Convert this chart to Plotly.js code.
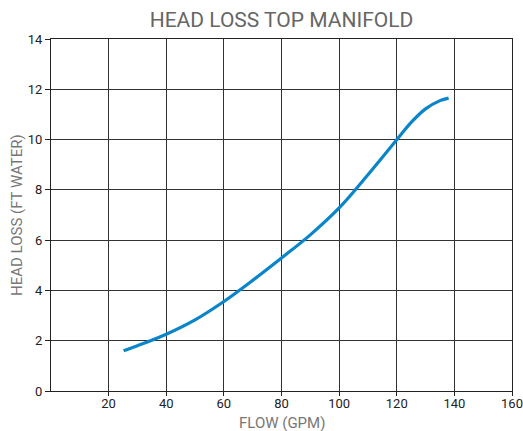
<!DOCTYPE html>
<html>
<head>
<meta charset="utf-8">
<script src="https://cdn.plot.ly/plotly-3.0.1.min.js"></script>
<style>html,body{margin:0;padding:0;background:#fff;}#chart{width:523px;height:431px;}</style>
</head>
<body>
<div id="chart"></div>
<script>
const flow = [25.2, 30, 40, 50, 60, 70, 80, 90, 100, 110, 120, 125, 130, 135, 138];
const headLoss = [1.6, 1.8, 2.26, 2.83, 3.56, 4.4, 5.29, 6.21, 7.28, 8.6, 9.99, 10.68, 11.22, 11.55, 11.65];
const xTicks = [20, 40, 60, 80, 100, 120, 140, 160];
const yTicks = [0, 2, 4, 6, 8, 10, 12, 14];

const trace = {
  x: flow, y: headLoss, type: 'scatter', mode: 'lines',
  line: {color: '#0a85c9', width: 3.2, shape: 'spline', smoothing: 1},
  hoverinfo: 'skip'
};
const layout = {
  width: 523, height: 431,
  margin: {l: 51, r: 11, t: 39, b: 40, pad: 0},
  paper_bgcolor: '#fff', plot_bgcolor: '#fff',
  showlegend: false,
  font: {family: 'Roboto, sans-serif', color: '#222'},
  title: {text: 'HEAD LOSS TOP MANIFOLD', font: {size: 21, color: '#666', family: 'Roboto, sans-serif'},
          x: 0.5, xref: 'paper', xanchor: 'center', y: 0.955, yref: 'container', yanchor: 'middle'},
  xaxis: {
    range: [0, 160], tickvals: xTicks, ticktext: xTicks.map(String),
    showgrid: true, gridcolor: '#333', gridwidth: 1,
    showline: true, linecolor: '#222', linewidth: 1, mirror: true,
    ticks: 'outside', ticklen: 4, tickcolor: '#222', ticklabelstandoff: -4,
    ticklabeloverflow: 'allow',
    tickfont: {size: 13, color: '#222'}, zeroline: false
  },
  yaxis: {
    range: [0, 14], tickvals: yTicks, ticktext: yTicks.map(String),
    showgrid: true, gridcolor: '#333', gridwidth: 1,
    showline: true, linecolor: '#222', linewidth: 1, mirror: true,
    ticks: 'outside', ticklen: 5, tickcolor: '#222',
    tickfont: {size: 13, color: '#222'}, zeroline: false
  },
  annotations: [
    {text: 'FLOW (GPM)', xref: 'paper', yref: 'paper', x: 0.5, y: 0, yshift: -32,
     xanchor: 'center', yanchor: 'middle', showarrow: false, font: {size: 15, color: '#777'}},
    {text: 'HEAD LOSS (FT WATER)', xref: 'paper', yref: 'paper', x: 0, xshift: -34, y: 0.5,
     xanchor: 'center', yanchor: 'middle', textangle: -90, showarrow: false, font: {size: 15, color: '#777'}}
  ]
};
Plotly.newPlot('chart', [trace], layout, {staticPlot: true, displayModeBar: false});
</script>
</body>
</html>
